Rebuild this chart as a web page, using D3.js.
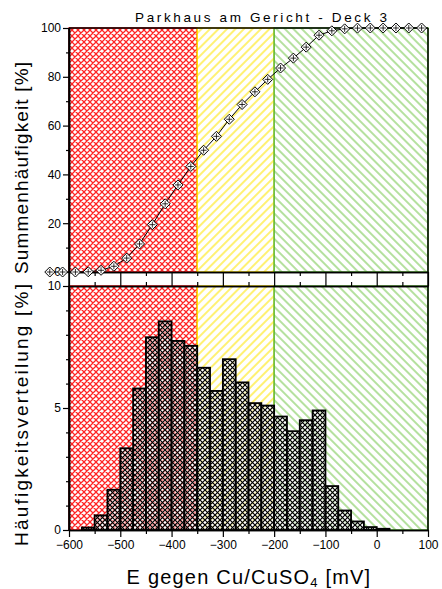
<!DOCTYPE html>
<html>
<head>
<meta charset="utf-8">
<script src="https://cdn.jsdelivr.net/npm/d3@7"></script>
<style>
  body { margin: 0; background: #fff; }
  text { font-family: "Liberation Sans", Arial, sans-serif; }
</style>
</head>
<body>
<div id="container"></div>
<script>
// Histogram bins (lower edge, mV) and frequency [%]
var binStart = [-575, -550, -525, -500, -475, -450, -425, -400, -375, -350, -325, -300,
                -275, -250, -225, -200, -175, -150, -125, -100, -75, -50, -25, 0];
var freq = [0.1, 0.6, 1.65, 3.35, 5.8, 7.9, 8.55, 7.75, 7.55, 6.65, 5.7, 7.0,
            6.05, 5.2, 5.1, 4.65, 4.05, 4.5, 4.9, 1.8, 0.8, 0.35, 0.12, 0.05];

// Cumulative curve (bin centres, mV) and value [%]
var cumX = [-637.5, -612.5, -587.5, -562.5, -537.5, -512.5, -487.5, -462.5, -437.5, -412.5,
            -387.5, -362.5, -337.5, -312.5, -287.5, -262.5, -237.5, -212.5, -187.5, -162.5,
            -137.5, -112.5, -87.5, -62.5, -37.5, -12.5, 12.5, 37.5, 62.5, 87.5];
var cumY = [0, 0, 0, 0.1, 0.7, 2.35, 5.7, 11.5, 19.4, 27.95,
            35.7, 43.25, 49.9, 55.6, 62.6, 68.65, 73.85, 78.95, 83.6, 87.65,
            92.15, 97.05, 98.85, 99.65, 99.95, 100, 100, 100, 100, 100];

// Evaluation zones
var zoneFrom = [-600, -350, -200];
var zoneTo = [-350, -200, 100];
var zoneName = ["red", "yellow", "green"];

var xTicks = [-600, -500, -400, -300, -200, -100, 0, 100];
var xMinor = [-550, -450, -350, -250, -150, -50, 50];

var width = 442,
    height = 589;

var svg = d3.select("#container")
            .append("svg")
              .attr("width", width)
              .attr("height", height);

var x = d3.scaleLinear().domain([-600, 100]).range([69, 428]);
var yTop = d3.scaleLinear().domain([0, 100]).range([272, 28]);
var yBot = d3.scaleLinear().domain([0, 10]).range([530, 286]);

// Hatch patterns
var defs = svg.append("defs");

var red = defs.append("pattern")
    .attr("id", "pat-red")
    .attr("patternUnits", "userSpaceOnUse")
    .attr("width", 6).attr("height", 6);
red.append("rect").attr("width", 6).attr("height", 6).attr("fill", "#fff");
red.append("path").attr("d", "M0,0L6,6M6,0L0,6M-1,5L1,7M5,-1L7,1M-1,1L1,-1M5,7L7,5")
    .attr("stroke", "#ff2424").attr("stroke-width", 1.25);

var yellow = defs.append("pattern")
    .attr("id", "pat-yellow")
    .attr("patternUnits", "userSpaceOnUse")
    .attr("width", 6).attr("height", 6)
    .attr("patternTransform", "rotate(45)");
yellow.append("rect").attr("width", 6).attr("height", 6).attr("fill", "#fff");
yellow.append("line").attr("x1", 1).attr("x2", 1).attr("y1", 0).attr("y2", 6)
    .attr("stroke", "#ffe600").attr("stroke-width", 1.1);

var green = defs.append("pattern")
    .attr("id", "pat-green")
    .attr("patternUnits", "userSpaceOnUse")
    .attr("width", 6).attr("height", 6)
    .attr("patternTransform", "rotate(-45)");
green.append("rect").attr("width", 6).attr("height", 6).attr("fill", "#fff");
green.append("line").attr("x1", 1).attr("x2", 1).attr("y1", 0).attr("y2", 6)
    .attr("stroke", "#78c850").attr("stroke-width", 1.1);

var bar = defs.append("pattern")
    .attr("id", "pat-bar")
    .attr("patternUnits", "userSpaceOnUse")
    .attr("width", 5).attr("height", 5);
bar.append("rect").attr("width", 5).attr("height", 5).attr("fill", "#fff").attr("opacity", 0.5);
bar.append("path").attr("d", "M0,0L5,5M5,0L0,5")
    .attr("stroke", "#000").attr("stroke-width", 1.2);

var zoneStroke = {red: "#ff1a1a", yellow: "#ffe000", green: "#5cb838"};

// Zone backgrounds for both panels
function drawZones(y) {
  svg.append("g")
    .selectAll("rect")
    .data(zoneName)
    .enter()
    .append("rect")
      .attr("x", function(d, i) { return x(zoneFrom[i]); })
      .attr("y", y.range()[1])
      .attr("width", function(d, i) { return x(zoneTo[i]) - x(zoneFrom[i]); })
      .attr("height", y.range()[0] - y.range()[1])
      .attr("fill", function(d) { return "url(#pat-" + d + ")"; })
      .attr("stroke", function(d) { return zoneStroke[d]; })
      .attr("stroke-width", 1.5);
}
drawZones(yTop);
drawZones(yBot);

// Histogram bars
svg.append("g")
  .selectAll("rect")
  .data(freq)
  .enter()
  .append("rect")
    .attr("x", function(d, i) { return x(binStart[i]); })
    .attr("y", function(d) { return yBot(d); })
    .attr("width", function(d, i) { return x(binStart[i] + 25) - x(binStart[i]); })
    .attr("height", function(d) { return yBot(0) - yBot(d); })
    .attr("fill", "url(#pat-bar)")
    .attr("stroke", "#000")
    .attr("stroke-width", 1.8);

// Axes
function styleAxis(g) {
  g.selectAll("path.domain").attr("stroke", "#000").attr("stroke-width", 1.5);
  g.selectAll(".tick line").attr("stroke", "#000").attr("stroke-width", 1.2);
  g.selectAll("text").style("font-size", "12px").attr("fill", "#000");
}

// top panel
svg.append("g")
  .attr("transform", "translate(69,0)")
  .call(d3.axisLeft(yTop).tickValues([0, 20, 40, 60, 80, 100]).tickSize(6).tickSizeOuter(0).tickPadding(2))
  .call(styleAxis);
svg.append("g")
  .attr("transform", "translate(69,0)")
  .call(d3.axisLeft(yTop).tickValues([10, 30, 50, 70, 90]).tickSize(3).tickSizeOuter(0).tickFormat(""))
  .call(styleAxis);
svg.append("g")
  .attr("transform", "translate(0,272)")
  .call(d3.axisBottom(x).tickValues(xTicks).tickSize(7).tickSizeOuter(0).tickFormat(""))
  .call(styleAxis);
svg.append("g")
  .attr("transform", "translate(0,272)")
  .call(d3.axisBottom(x).tickValues(xMinor).tickSize(4).tickSizeOuter(0).tickFormat(""))
  .call(styleAxis);
svg.append("line")
  .attr("x1", x(-600)).attr("x2", x(100))
  .attr("y1", yTop(100)).attr("y2", yTop(100))
  .attr("stroke", "#000").attr("stroke-width", 1.5);

// bottom panel
svg.append("g")
  .attr("transform", "translate(69,0)")
  .call(d3.axisLeft(yBot).tickValues([0, 5, 10]).tickSize(6).tickSizeOuter(0).tickPadding(2))
  .call(styleAxis);
svg.append("g")
  .attr("transform", "translate(69,0)")
  .call(d3.axisLeft(yBot).tickValues([1, 2, 3, 4, 6, 7, 8, 9]).tickSize(3).tickSizeOuter(0).tickFormat(""))
  .call(styleAxis);
svg.append("g")
  .attr("transform", "translate(0,286)")
  .call(d3.axisTop(x).tickValues(xTicks).tickSize(7).tickSizeOuter(0).tickFormat(""))
  .call(styleAxis);
svg.append("g")
  .attr("transform", "translate(0,286)")
  .call(d3.axisTop(x).tickValues(xMinor).tickSize(4).tickSizeOuter(0).tickFormat(""))
  .call(styleAxis);
svg.append("g")
  .attr("transform", "translate(0,530)")
  .call(d3.axisBottom(x).tickValues(xTicks).tickSize(7).tickSizeOuter(0).tickPadding(3))
  .call(styleAxis);
svg.append("g")
  .attr("transform", "translate(0,530)")
  .call(d3.axisBottom(x).tickValues(xMinor).tickSize(4).tickSizeOuter(0).tickFormat(""))
  .call(styleAxis);

// left and right frame lines through both panels
svg.append("line")
  .attr("x1", x(100)).attr("x2", x(100))
  .attr("y1", yTop(100)).attr("y2", yBot(0))
  .attr("stroke", "#000").attr("stroke-width", 1.5);
svg.append("line")
  .attr("x1", x(-600)).attr("x2", x(-600))
  .attr("y1", yTop(100)).attr("y2", yBot(0))
  .attr("stroke", "#000").attr("stroke-width", 1.5);

// Cumulative curve
var line = d3.line()
  .x(function(d, i) { return x(cumX[i]); })
  .y(function(d) { return yTop(d); });

svg.append("path")
  .datum(cumY)
  .attr("d", line)
  .attr("fill", "none")
  .attr("stroke", "#000")
  .attr("stroke-width", 1);

var marker = svg.append("g")
  .selectAll("g")
  .data(cumY)
  .enter()
  .append("g")
    .attr("transform", function(d, i) { return "translate(" + x(cumX[i]) + "," + yTop(d) + ")"; });
marker.append("path")
  .attr("d", "M0,-5L5,0L0,5L-5,0Z")
  .attr("fill", "#fff")
  .attr("stroke", "#000")
  .attr("stroke-width", 1);
marker.append("path")
  .attr("d", "M-3,0L3,0M0,-3L0,3")
  .attr("stroke", "#000")
  .attr("stroke-width", 0.8);

// Titles
svg.append("text")
  .attr("x", 261)
  .attr("y", 22)
  .attr("text-anchor", "middle")
  .attr("textLength", 252)
  .attr("lengthAdjust", "spacing")
  .style("font-size", "13.5px")
  .text("Parkhaus am Gericht - Deck 3");

svg.append("text")
  .attr("transform", "translate(28,168) rotate(-90)")
  .attr("text-anchor", "middle")
  .attr("textLength", 212)
  .attr("lengthAdjust", "spacing")
  .style("font-size", "19px")
  .text("Summenhäufigkeit [%]");

svg.append("text")
  .attr("transform", "translate(28,415) rotate(-90)")
  .attr("text-anchor", "middle")
  .attr("textLength", 262)
  .attr("lengthAdjust", "spacing")
  .style("font-size", "19px")
  .text("Häufigkeitsverteilung [%]");

var xt = svg.append("text")
  .attr("x", 249)
  .attr("y", 584)
  .attr("text-anchor", "middle")
  .style("font-size", "20px")
  .style("letter-spacing", "1.2px");
xt.append("tspan").text("E gegen Cu/CuSO");
xt.append("tspan").attr("dy", 3).style("font-size", "13px").text("4");
xt.append("tspan").attr("dy", -3).text(" [mV]");
</script>
</body>
</html>
